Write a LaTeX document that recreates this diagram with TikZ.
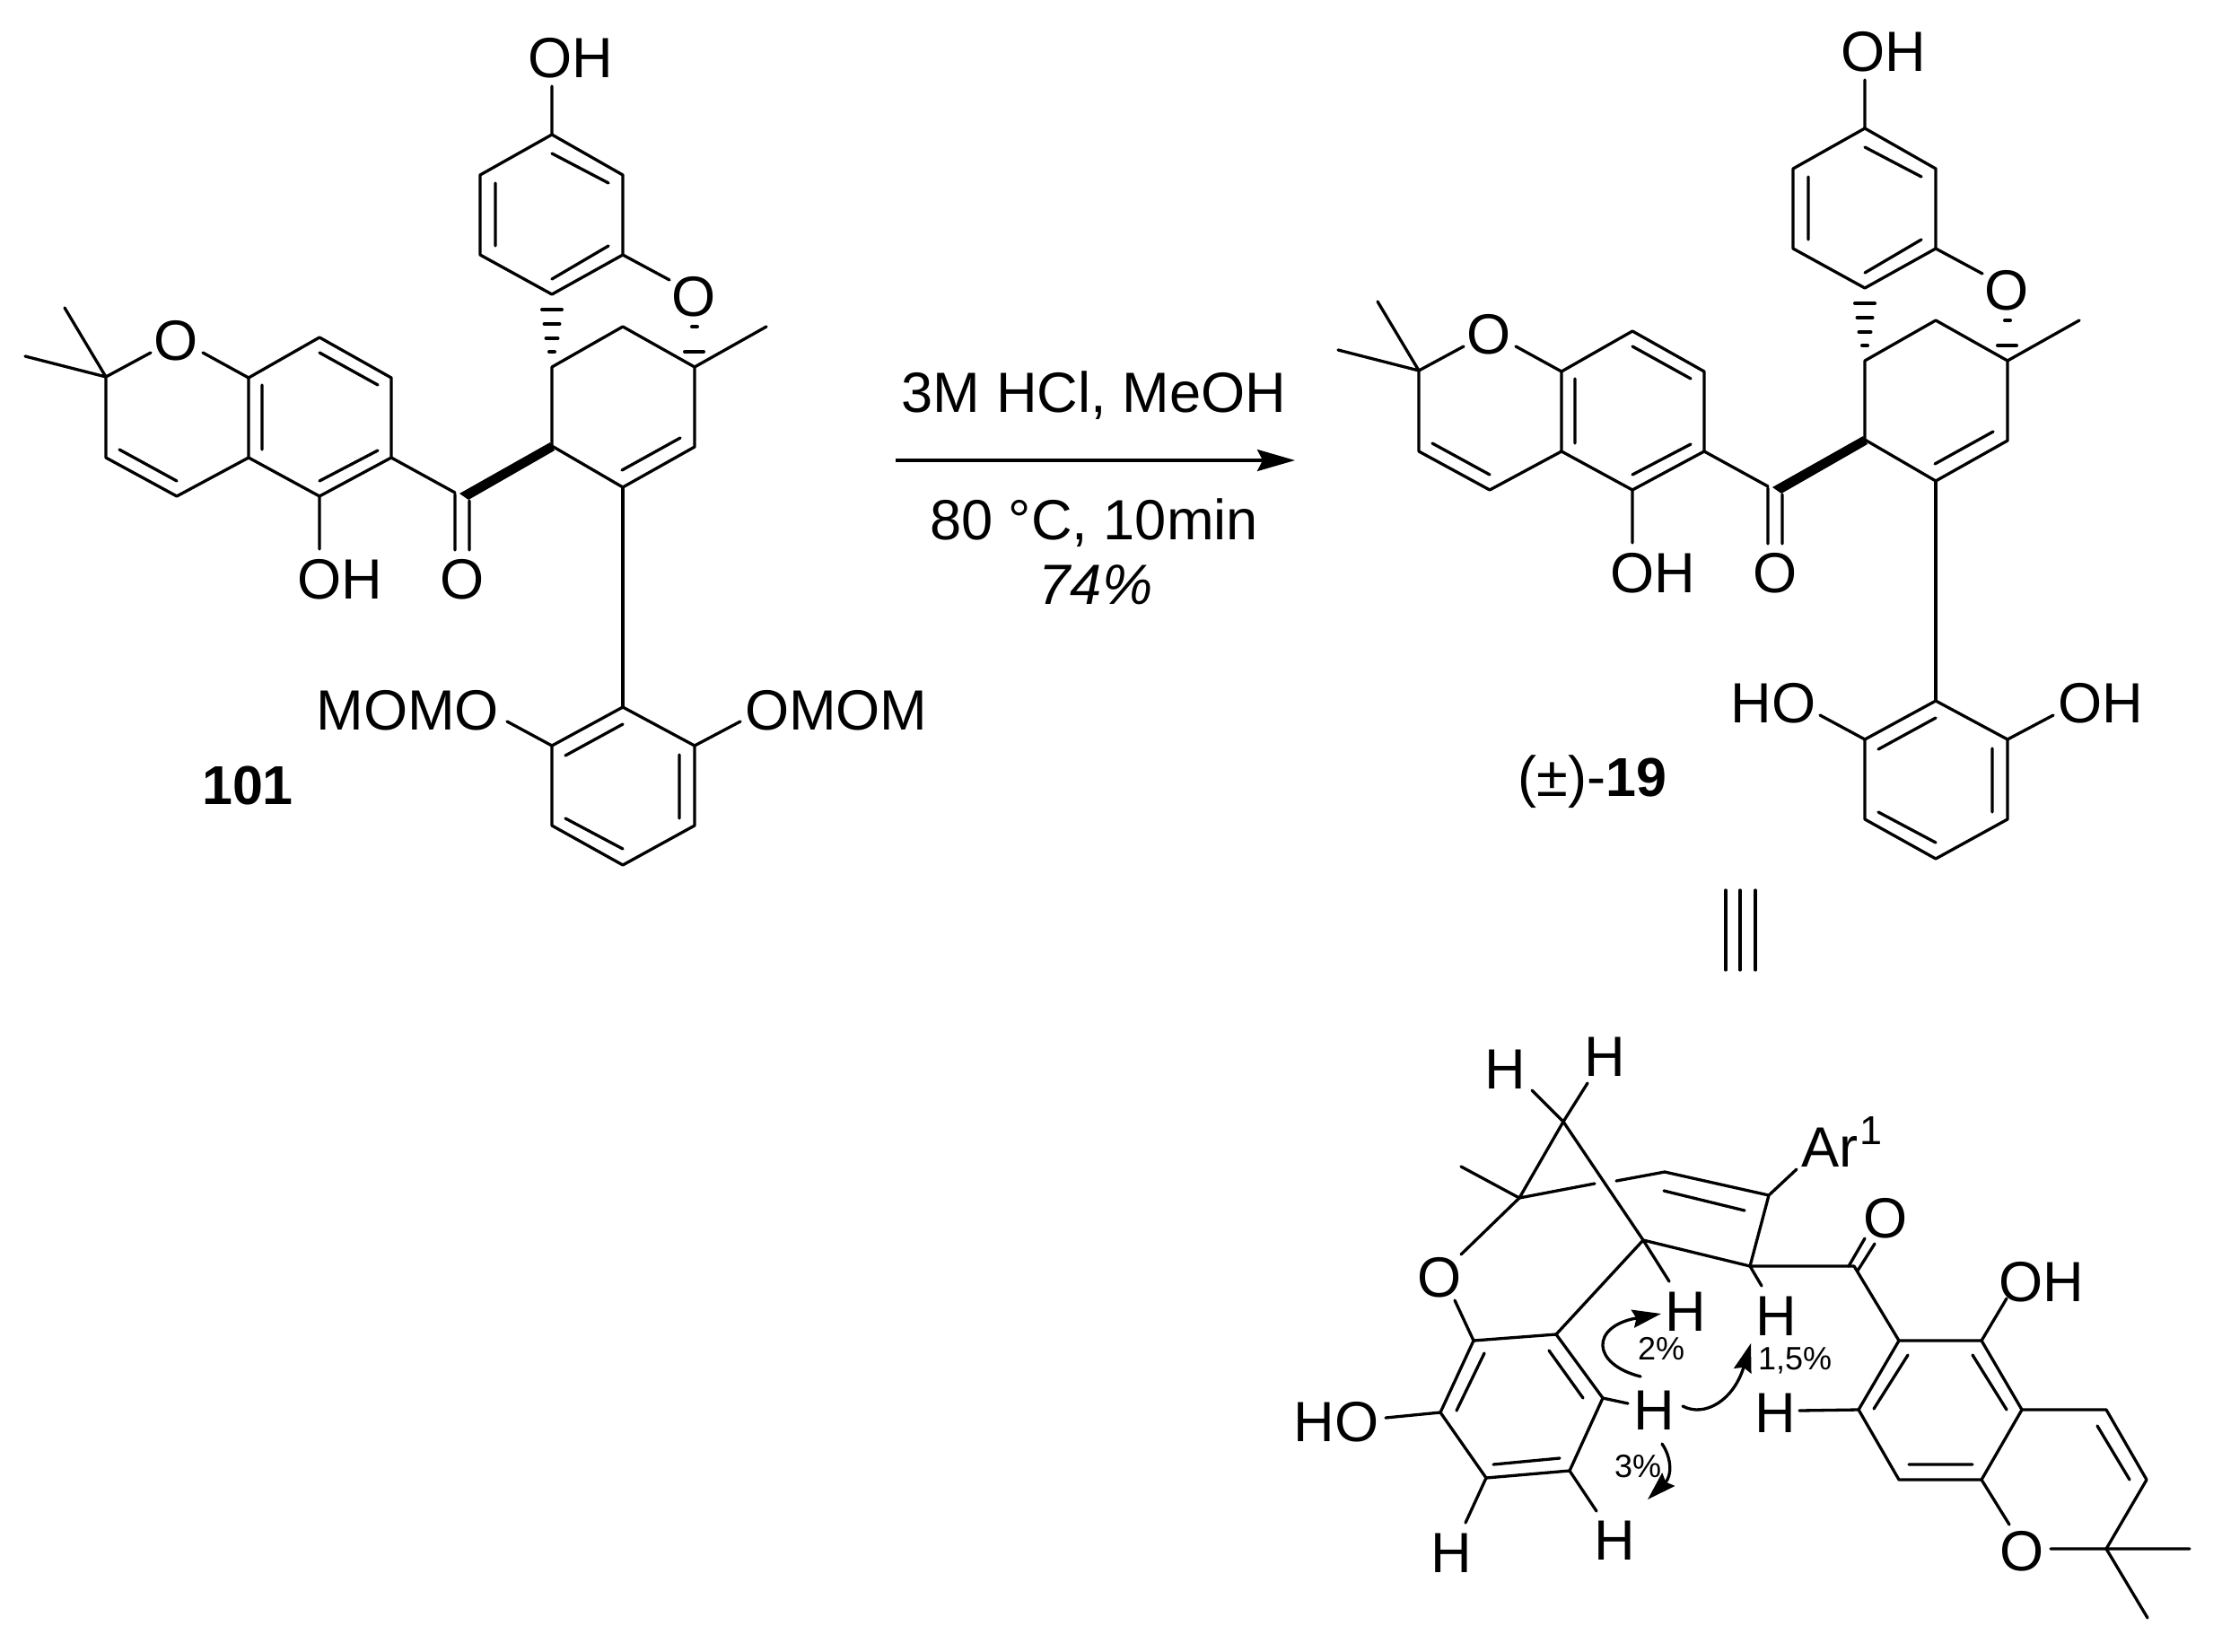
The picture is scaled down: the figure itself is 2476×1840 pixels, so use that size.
\documentclass[tikz,border=0pt]{standalone}
\usepackage{fontspec}
\setmainfont{Liberation Sans}
\usetikzlibrary{arrows.meta}
\tikzset{
  bond/.style={line width=1.65pt,line cap=round,line join=round},
  hash/.style={line width=2pt,line cap=round},
  lbl/.style={inner sep=0pt,outer sep=0pt,font=\fontsize{31.6}{31.6}\selectfont,text height=22.6pt,text depth=0pt},
  basetxt/.style={inner sep=0pt,outer sep=0pt,anchor=base,font=\fontsize{31.6}{31.6}\selectfont},
  pct/.style={inner sep=0pt,outer sep=0pt,font=\fontsize{18}{18}\selectfont,text height=13pt,text depth=0pt},
  noe/.style={bond,-{Stealth[length=16pt,width=10pt,inset=2pt]}}
}
\newcommand{\coremol}{%
  % upper phenol ring
  \coordinate (a1) at (615,150); \coordinate (a2) at (694,195); \coordinate (a3) at (694,284);
  \coordinate (a4) at (615,328); \coordinate (a5) at (535,284); \coordinate (a6) at (535,195);
  \coordinate (a1i) at (615,171); \coordinate (a2i) at (678,204); \coordinate (a3i) at (678,274);
  \coordinate (a4i) at (615,311); \coordinate (a5i) at (552,274); \coordinate (a6i) at (552,204);
  \coordinate (ohe) at (615,96); \coordinate (oe) at (746,312);
  % central ring
  \coordinate (q) at (774,409); \coordinate (me) at (854,364); \coordinate (ch) at (694,364);
  \coordinate (c1) at (615,409); \coordinate (c2) at (615,497); \coordinate (c3) at (694,543);
  \coordinate (c4) at (774,498); \coordinate (c3i) at (693,524); \coordinate (c4i) at (758,488);
  % carbonyl
  \coordinate (co) at (507,549); \coordinate (w1) at (613,493); \coordinate (w2) at (618,502);
  \coordinate (w3) at (522,557); \coordinate (w4) at (512,550);
  \coordinate (dl1) at (507,551); \coordinate (dl2) at (507,613);
  \coordinate (dr1) at (523,558); \coordinate (dr2) at (523,613);
  % chromene
  \coordinate (b1) at (436,510); \coordinate (b2) at (436,421); \coordinate (b3) at (356,376);
  \coordinate (b4) at (277,421); \coordinate (b5) at (277,510); \coordinate (b6) at (356,553);
  \coordinate (b1i) at (421,502); \coordinate (b6i) at (356,536); \coordinate (b2i) at (421,429);
  \coordinate (b3i) at (356,393); \coordinate (b4i) at (292,429); \coordinate (b5i) at (292,501);
  \coordinate (ohl) at (356,612); \coordinate (ob) at (226,393); \coordinate (oa) at (168,393);
  \coordinate (cm) at (118,420); \coordinate (m1) at (72,343); \coordinate (m2) at (28,397);
  \coordinate (d1) at (118,510); \coordinate (d2) at (197,553);
  \coordinate (d1i) at (133,501); \coordinate (d2i) at (197,536);
  % lower ring
  \coordinate (e1) at (694,788); \coordinate (e2) at (774,831); \coordinate (e3) at (774,920);
  \coordinate (e4) at (694,964); \coordinate (e5) at (615,920); \coordinate (e6) at (615,831);
  \coordinate (e1i) at (694,807); \coordinate (e6i) at (630,842); \coordinate (e2i) at (757,841);
  \coordinate (e3i) at (757,912); \coordinate (e4i) at (694,946); \coordinate (e5i) at (630,912);
  \coordinate (ol) at (565,804); \coordinate (or) at (825,804);
  % hash marks
  \foreach \n/\y/\h in {1/345/11,2/361/8.5,3/377/6.5,4/392/3}{
    \coordinate (hl\n) at (615-\h,\y); \coordinate (hr\n) at (615+\h,\y);
    \draw[hash] (hl\n) -- (hr\n);
  }
  \coordinate (ql1) at (763,392); \coordinate (qr1) at (784,392);
  \coordinate (ql2) at (771,364); \coordinate (qr2) at (777,364);
  \draw[hash] (ql1) -- (qr1);
  \draw[hash] (ql2) -- (qr2);
  % bonds
  \draw[bond] (a1) -- (a2) -- (a3) -- (a4) -- (a5) -- (a6) -- cycle;
  \draw[bond] (a1i) -- (a2i) (a3i) -- (a4i) (a5i) -- (a6i) (a1) -- (ohe) (a3) -- (oe);
  \draw[bond] (me) -- (q) -- (ch) -- (c1) -- (c2) -- (c3) -- (c4) -- (q);
  \draw[bond] (c3i) -- (c4i);
  \fill (w1) -- (w2) -- (w3) -- (w4) -- cycle;
  \draw[bond] (b1) -- (co) (dl1) -- (dl2) (dr1) -- (dr2);
  \draw[bond] (b1) -- (b2) -- (b3) -- (b4) -- (b5) -- (b6) -- cycle;
  \draw[bond] (b1i) -- (b6i) (b2i) -- (b3i) (b4i) -- (b5i) (b6) -- (ohl) (b4) -- (ob);
  \draw[bond] (oa) -- (cm) -- (m1) (cm) -- (m2) (cm) -- (d1) -- (d2) -- (b5) (d1i) -- (d2i);
  \draw[bond] (c3) -- (e1);
  \draw[bond] (e1) -- (e2) -- (e3) -- (e4) -- (e5) -- (e6) -- cycle;
  \draw[bond] (e1i) -- (e6i) (e2i) -- (e3i) (e4i) -- (e5i) (e6) -- (ol) (e2) -- (or);
  % labels
  \node[lbl] (oh1) at (636,64) {OH};
  \node[lbl] (o1) at (773,330) {O};
  \node[lbl] (o2) at (196,379) {O};
  \node[lbl] (oh2) at (379,645) {OH};
  \node[lbl] (o3) at (515,645) {O};
}
\begin{document}
\begin{tikzpicture}[x=0.5pt,y=-0.5pt]
\useasboundingbox (0,0) rectangle (2476,1840);
\fill[white] (0,0) rectangle (2476,1840);
% reactant
\begin{scope}[name prefix=r-]
  \coremol
  \node[lbl,anchor=east] (momo) at (556,791) {MOMO};
  \node[lbl,anchor=west] (omom) at (830,791) {OMOM};
  \node[lbl,font=\bfseries\fontsize{30.5}{30.5}\selectfont,text height=21.8pt] (n101) at (276,875) {101};
\end{scope}
% product
\begin{scope}[name prefix=p-,shift={(1463,-7)}]
  \coremol
\end{scope}
\node[lbl] (ho) at (1976,783) {HO};
\node[lbl,anchor=west] (ohr) at (2293,783) {OH};
\node[basetxt,anchor=base east] (n19) at (1857,887) {(±)-{\bfseries\fontsize{30.5}{30.5}\selectfont 19}};
% reaction arrow
\coordinate (ar1) at (998,513);
\coordinate (ar2) at (1443,513);
\draw[bond,line cap=butt,-{Stealth[length=21pt,width=12pt,inset=3pt]}] (ar1) -- (ar2);
\node[basetxt] (t1) at (1219,459) {3M HCl, MeOH};
\node[basetxt] (t2) at (1219,601) {80 °C, 10min};
\node[basetxt,font=\itshape\fontsize{31.6}{31.6}\selectfont] (t3) at (1221,673) {74\%};
% equals
\coordinate (t1a) at (1923,992); \coordinate (t1b) at (1923,1081);
\coordinate (t2a) at (1939,992); \coordinate (t2b) at (1939,1081);
\coordinate (t3a) at (1956,992); \coordinate (t3b) at (1956,1081);
\draw[bond] (t1a) -- (t1b) (t2a) -- (t2b) (t3a) -- (t3b);
% 3D structure
\coordinate (apex) at (1742,1250);
\coordinate (haE) at (1707,1215); \coordinate (hbE) at (1769,1207);
\coordinate (cq) at (1693,1335); \coordinate (qme) at (1628,1300);
\coordinate (g1) at (1777,1319); \coordinate (g2) at (1801,1316);
\coordinate (v1) at (1855,1306); \coordinate (v2) at (1971,1332);
\coordinate (v1i) at (1854,1327); \coordinate (v2i) at (1944,1349);
\coordinate (arE) at (2002,1303);
\coordinate (c4) at (1831,1382); \coordinate (c5) at (1950,1411);
\coordinate (coc) at (2066,1411);
\coordinate (h1E) at (1860,1428); \coordinate (h2E) at (1963,1433);
\coordinate (oE1) at (1628,1398); \coordinate (oE2) at (1621,1449);
\coordinate (l1) at (1642,1494); \coordinate (l2) at (1734,1487); \coordinate (l3) at (1786,1558);
\coordinate (l4) at (1749,1639); \coordinate (l5) at (1656,1647); \coordinate (l6) at (1605,1574);
\coordinate (l1i) at (1654,1508); \coordinate (l6i) at (1623,1572);
\coordinate (l2i) at (1726,1505); \coordinate (l3i) at (1764,1558);
\coordinate (l5i) at (1664,1632); \coordinate (l4i) at (1738,1625);
\coordinate (hoE) at (1544,1580); \coordinate (h3E) at (1814,1564);
\coordinate (h5E) at (1633,1697); \coordinate (h6E) at (1779,1684);
\coordinate (s1) at (2116,1494); \coordinate (s2) at (2208,1494); \coordinate (s3) at (2253,1571);
\coordinate (s4) at (2208,1649); \coordinate (s5) at (2116,1649); \coordinate (s6) at (2071,1571);
\coordinate (s1i) at (2126,1510); \coordinate (s6i) at (2088,1570);
\coordinate (s2i) at (2198,1510); \coordinate (s3i) at (2236,1571);
\coordinate (s5i) at (2127,1632); \coordinate (s4i) at (2198,1632);
\coordinate (h4E) at (2005,1572); \coordinate (oh3E) at (2236,1447);
\coordinate (coA1) at (2070,1416); \coordinate (coA2) at (2089,1386);
\coordinate (coB1) at (2060,1411); \coordinate (coB2) at (2078,1380);
\coordinate (y1) at (2347,1571); \coordinate (y2) at (2392,1649); \coordinate (y3) at (2347,1726);
\coordinate (y1i) at (2337,1589); \coordinate (y2i) at (2373,1649);
\coordinate (oyE1) at (2239,1699); \coordinate (oyE2) at (2285,1726);
\coordinate (ym1) at (2440,1726); \coordinate (ym2) at (2393,1803);
\draw[bond] (haE) -- (apex) -- (hbE) (apex) -- (cq) -- (qme) (cq) -- (g1);
\draw[bond] (g2) -- (v1) -- (v2) -- (c5) (v1i) -- (v2i) (v2) -- (arE);
\draw[bond] (apex) -- (c4) -- (c5) -- (coc) (c4) -- (l2) (c4) -- (h1E) (c5) -- (h2E);
\draw[bond] (cq) -- (oE1) (oE2) -- (l1);
\draw[bond] (l1) -- (l2) -- (l3) -- (l4) -- (l5) -- (l6) -- cycle;
\draw[bond] (l1i) -- (l6i) (l2i) -- (l3i) (l5i) -- (l4i) (l6) -- (hoE) (l3) -- (h3E) (l5) -- (h5E) (l4) -- (h6E);
\draw[bond] (coc) -- (s1) (coA1) -- (coA2);
\draw[bond] (s1) -- (s2) -- (s3) -- (s4) -- (s5) -- (s6) -- cycle;
\draw[bond] (s1i) -- (s6i) (s2i) -- (s3i) (s5i) -- (s4i) (s6) -- (h4E) (s2) -- (oh3E);
\draw[bond] (s3) -- (y1) -- (y2) -- (y3) -- (ym1) (y3) -- (ym2) (y1i) -- (y2i);
\draw[bond] (s4) -- (oyE1) (oyE2) -- (y3);
\draw[bond] (coB1) -- (coB2);
\node[lbl] (ha) at (1677,1191) {H};
\node[lbl] (hb) at (1788,1177) {H};
\node[basetxt,anchor=base west] (ar) at (2007,1300) {Ar};
\node[pct,font=\fontsize{22.5}{22.5}\selectfont,text height=16pt] (ar1s) at (2085,1259) {1};
\node[lbl] (o4) at (1604,1423) {O};
\node[lbl] (o5) at (2101,1357) {O};
\node[lbl] (oh4) at (2275,1428) {OH};
\node[lbl] (h1) at (1878,1461) {H};
\node[lbl] (h2) at (1979,1466) {H};
\node[lbl] (h3) at (1843,1571) {H};
\node[lbl] (h4) at (1978,1574) {H};
\node[lbl] (ho2) at (1489,1584) {HO};
\node[lbl] (h5) at (1617,1730) {H};
\node[lbl] (h6) at (1799,1716) {H};
\node[lbl] (o6) at (2253,1728) {O};
\node[pct] (p2) at (1851,1502) {2\%};
\node[pct] (p15) at (2000,1513) {1,5\%};
\node[pct] (p3) at (1825,1633) {3\%};
% NOE arrows
\coordinate (na0) at (1828,1534); \coordinate (na1) at (1773,1520); \coordinate (na2) at (1772,1478); \coordinate (na3) at (1851,1464);
\coordinate (nb0) at (1875,1567); \coordinate (nb1) at (1900,1580); \coordinate (nb2) at (1932,1560); \coordinate (nb3) at (1951,1497);
\coordinate (nc0) at (1852,1609); \coordinate (nc1) at (1863,1625); \coordinate (nc2) at (1863,1645); \coordinate (nc3) at (1836,1671);
\draw[noe] (na0) .. controls (na1) and (na2) .. (na3);
\draw[noe] (nb0) .. controls (nb1) and (nb2) .. (nb3);
\draw[noe] (nc0) .. controls (nc1) and (nc2) .. (nc3);
\end{tikzpicture}
\end{document}
